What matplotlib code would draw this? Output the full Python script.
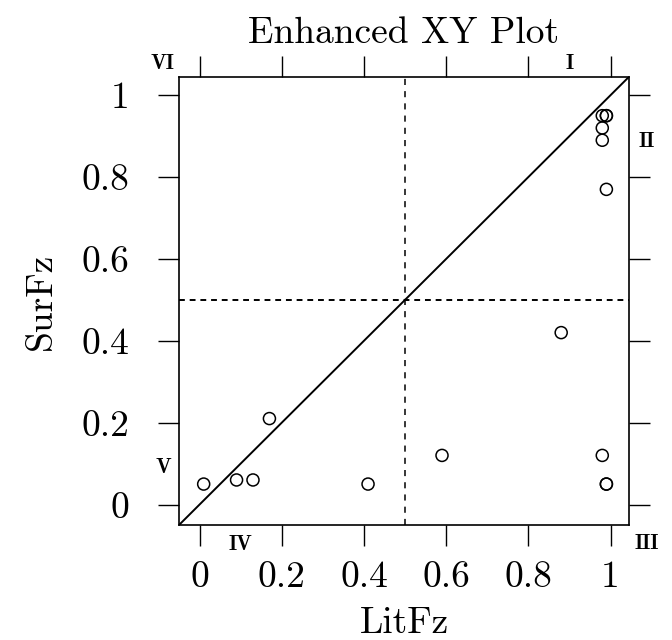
import matplotlib
matplotlib.use("Agg")
import matplotlib.pyplot as plt

plt.rcParams['font.family'] = ['cmr10', 'DejaVu Serif']
plt.rcParams['axes.formatter.use_mathtext'] = True

# Data
lit_fz = [0.01, 0.09, 0.13, 0.17, 0.41, 0.59, 0.88, 0.98, 0.99, 0.99,
          0.98, 0.98, 0.98, 0.99, 0.99, 0.99]
sur_fz = [0.05, 0.06, 0.06, 0.21, 0.05, 0.12, 0.42, 0.12, 0.05, 0.05,
          0.89, 0.92, 0.95, 0.95, 0.95, 0.77]
tick_values = [0, 0.2, 0.4, 0.6, 0.8, 1.0]
tick_labels = ["0", "0.2", "0.4", "0.6", "0.8", "1"]
region_labels = ["I", "II", "III", "IV", "V", "VI"]
region_pos = [(0.90, 1.078), (1.087, 0.888), (1.087, -0.095),
              (0.10, -0.097), (-0.089, 0.090), (-0.091, 1.078)]
threshold = 0.5
lim = (-0.05, 1.045)

fig = plt.figure(figsize=(6.72, 6.4), dpi=100)
ax = fig.add_axes([0.2664, 0.1797, 0.936 - 0.2664, 0.880 - 0.1797])

ax.set_xlim(lim)
ax.set_ylim(lim)

ax.plot(lim, lim, color='black', lw=1.4, zorder=2)
ax.axvline(threshold, color='black', lw=1.1, ls=(0, (4, 4)), zorder=1)
ax.axhline(threshold, color='black', lw=1.4, ls=(0, (3, 2.5)), zorder=1)

ax.scatter(lit_fz, sur_fz, s=75, facecolors='none', edgecolors='black',
           linewidths=1.1, zorder=3)

ax.set_xticks(tick_values)
ax.set_xticklabels(tick_labels)
ax.set_yticks(tick_values)
ax.set_yticklabels(tick_labels)
ax.tick_params(axis='both', which='both', direction='out', length=15,
               width=1.0, labelsize=27,
               top=True, right=True, labeltop=False, labelright=False)
ax.tick_params(axis='x', pad=11)
ax.tick_params(axis='y', pad=21)

for s in ax.spines.values():
    s.set_linewidth(1.2)

ax.set_xlabel("LitFz", fontsize=27, labelpad=9)
ax.set_ylabel("SurFz", fontsize=27, labelpad=17)
ax.set_title("Enhanced XY Plot", fontsize=27, pad=24)

for lab, (px, py) in zip(region_labels, region_pos):
    ax.text(px, py, lab, ha='center', va='center', fontsize=15,
            family=['cmb10', 'DejaVu Serif'], clip_on=False)

fig.savefig("out.png", dpi=100)
